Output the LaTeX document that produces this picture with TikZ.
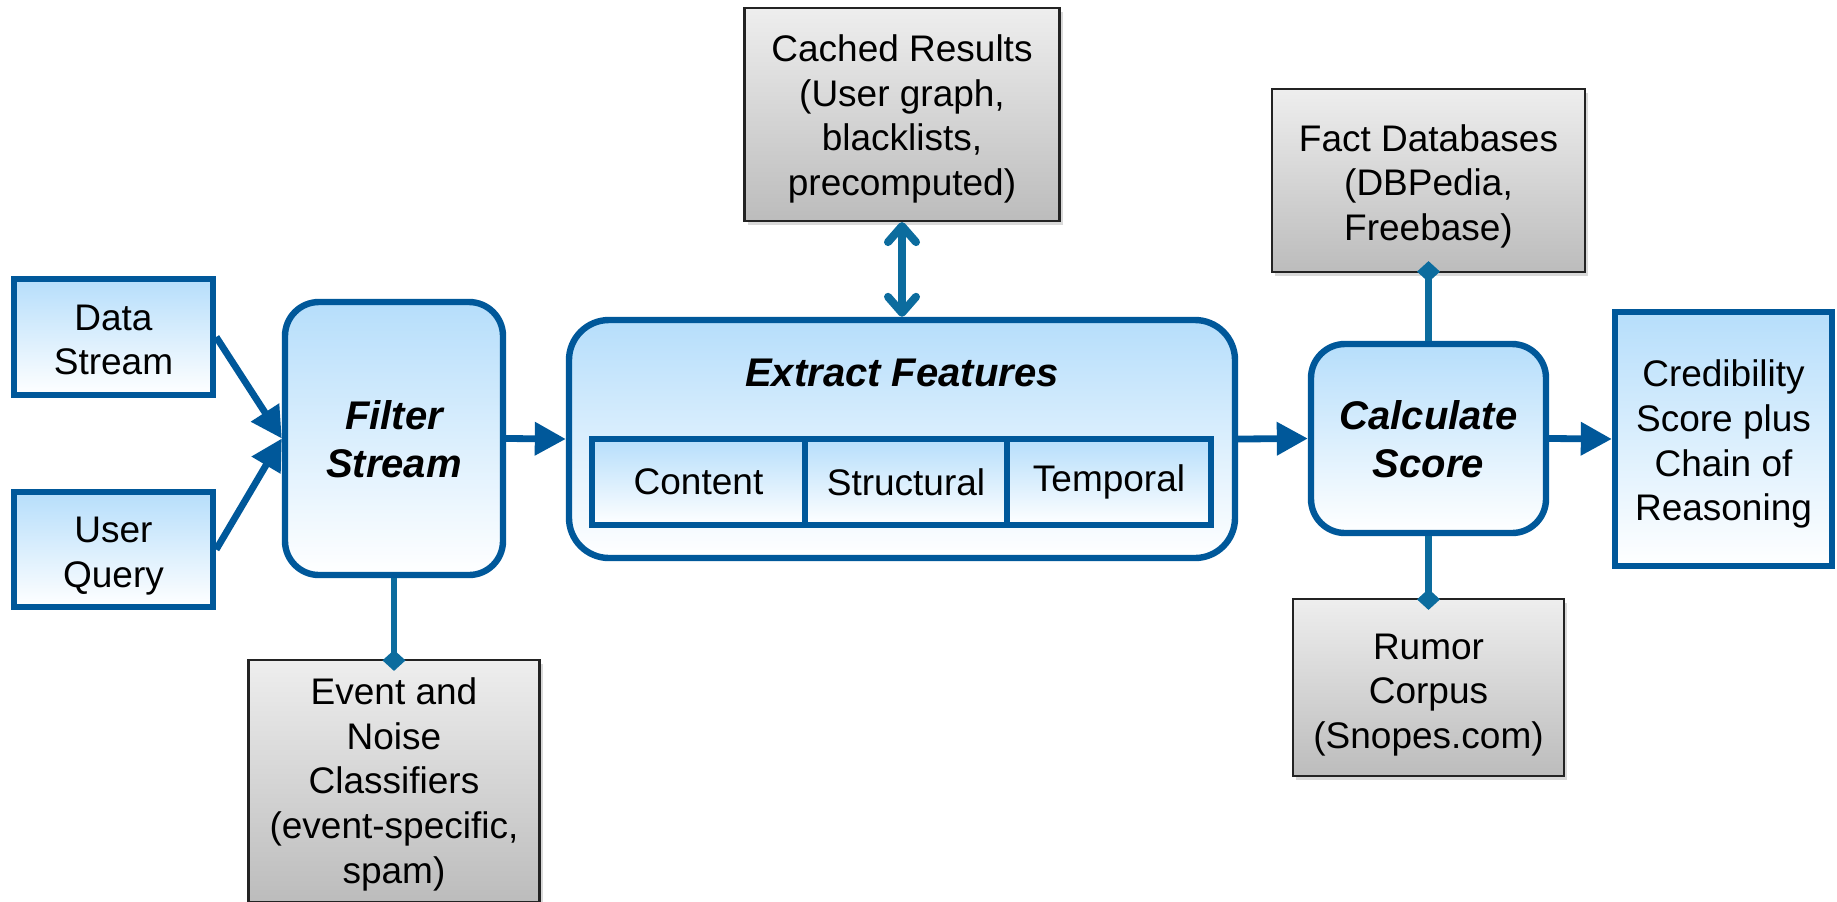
\documentclass[tikz,border=0pt]{standalone}
\usepackage{fontspec}
\setmainfont{Liberation Sans}
\usetikzlibrary{arrows.meta,shadows}
\definecolor{bord}{RGB}{0,88,154}
\definecolor{conn}{RGB}{12,108,158}
\definecolor{bfill}{RGB}{182,222,251}
\definecolor{gtop}{RGB}{238,238,238}
\definecolor{gbot}{RGB}{188,188,188}
\definecolor{gbord}{RGB}{35,35,35}
\newcommand{\boxlines}[2]{\begin{tabular}{@{}c@{}}\rule{0pt}{#1}#2\end{tabular}}
\begin{document}
\begin{tikzpicture}[x=0.5pt,y=-0.5pt,
  txt/.style={font=\fontsize{18.5}{22.3}\selectfont},
  bold/.style={font=\fontsize{20}{24}\selectfont\bfseries\itshape},
  bluebox/.style={draw=bord, line width=3.2pt, top color=bfill, bottom color=white, inner sep=0pt, txt},
  procbox/.style={bluebox, rounded corners=17pt, bold},
  graybox/.style={draw=gbord, line width=1.1pt, top color=gtop, bottom color=gbot, inner sep=0pt, txt,
    drop shadow={opacity=0.3, shadow xshift=1.5pt, shadow yshift=-2pt}},
  cellbox/.style={draw=bord, line width=2.6pt, top color=bfill, bottom color=white, inner sep=0pt, txt},
  flow/.style={draw=bord, line width=3.4pt, -{Triangle[length=15.5pt,width=16pt]}},
  link/.style={draw=conn, line width=3.4pt, -{Diamond[length=10.5pt,width=11.5pt]}, shorten >=-6pt},
  dbl/.style={draw=conn, line width=4pt, {Straight Barb[length=8pt,width=14pt,round]}-{Straight Barb[length=8pt,width=14pt,round]}},
]
\useasboundingbox (0,0) rectangle (1837,901);

\node[bluebox, minimum width=99.5pt, minimum height=58pt] (ds) at (113.5,337) {\boxlines{22pt}{Data\\Stream}};
\node[bluebox, minimum width=99.5pt, minimum height=57.5pt] (uq) at (113.5,549.5) {\boxlines{22pt}{User\\Query}};
\node[procbox, minimum width=109pt, minimum height=136.5pt] (fs) at (394,438.5) {\boxlines{22.6pt}{Filter\\Stream}};
\node[graybox, minimum width=145.5pt, minimum height=121pt] (ev) at (394,781) {\boxlines{19.6pt}{Event and\\Noise\\Classifiers\\(event-specific,\\spam)}};

\node[procbox, rounded corners=20pt, minimum width=333pt, minimum height=119pt] (ef) at (902,439) {};
\node[bold] (eft) at (902,372.5) {Extract Features};
\node[cellbox, minimum width=106.5pt, minimum height=43pt] (c1) at (698.5,482) {Content};
\node[cellbox, minimum width=101pt, minimum height=43pt] (c2) at (906,482) {Structural};
\node[cellbox, minimum width=102pt, minimum height=43pt] (c3) at (1109,482) {Temporal};

\node[graybox, minimum width=157.5pt, minimum height=106.5pt] (cr) at (902,114.5) {\boxlines{20.6pt}{Cached Results\\(User graph,\\blacklists,\\precomputed)}};
\node[graybox, minimum width=156.5pt, minimum height=91.5pt] (fd) at (1428.5,180.5) {\boxlines{22pt}{Fact Databases\\(DBPedia,\\Freebase)}};
\node[procbox, minimum width=117.5pt, minimum height=94.5pt] (cs) at (1428.5,438.5) {\boxlines{22.6pt}{Calculate\\Score}};
\node[graybox, minimum width=135.5pt, minimum height=88.5pt] (rc) at (1428.5,687.5) {\boxlines{23pt}{Rumor\\Corpus\\(Snopes.com)}};
\node[bluebox, minimum width=108.5pt, minimum height=127pt] (cb) at (1723.5,439) {\boxlines{21.4pt}{Credibility\\Score plus\\Chain of\\Reasoning}};

\draw[flow] (ds.east) -- (fs.west);
\draw[flow] (uq.east) -- (fs.west);
\draw[flow] (fs.east) -- (ef.west);
\draw[flow] (ef.east) -- (cs.west);
\draw[flow] (cs.east) -- (cb.west);
\draw[link] (fs.south) -- (ev.north);
\draw[link] (cs.north) -- (fd.south);
\draw[link] (cs.south) -- (rc.north);
\draw[dbl] (cr.south) -- (ef.north);
\end{tikzpicture}
\end{document}
